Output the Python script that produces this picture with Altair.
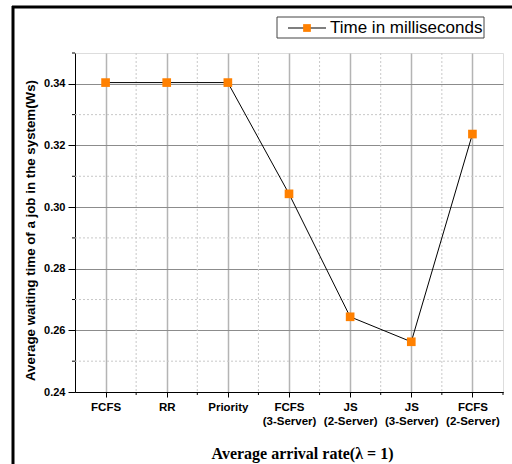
import altair as alt
import pandas as pd

categories = ["FCFS", "RR", "Priority", "FCFS|(3-Server)", "JS|(2-Server)", "JS|(3-Server)", "FCFS|(2-Server)"]
values = [0.3404, 0.3404, 0.3404, 0.3043, 0.2644, 0.2563, 0.3237]
y_major = [0.24, 0.26, 0.28, 0.30, 0.32, 0.34]
y_minor = [0.25, 0.27, 0.29, 0.31, 0.33, 0.35]
x_minor_grid = [0.5, 1.5, 2.5, 3.5, 4.5, 5.5]
x_minor_ticks = [0.5, 1.5, 2.5, 3.5, 4.5, 5.5, 6.5]
legend_label = "Time in milliseconds"
x_title = "Average arrival rate(λ = 1)"
y_title = "Average waiting time of a job in the system(Ws)"

W, H = 428, 339

df = pd.DataFrame({"idx": list(range(len(categories))), "cat": categories, "val": values})
xscale = alt.Scale(domain=[-0.5, 6.5], nice=False, zero=False)
yscale = alt.Scale(domain=[0.24, 0.35], nice=False, zero=False)

arr = "[" + ",".join("'" + c + "'" for c in categories) + "]"
label_expr = "split(" + arr + "[datum.value], '|')"

one = pd.DataFrame({"k": [0]})

minor_xgrid = alt.Chart(pd.DataFrame({"m": x_minor_grid})).mark_rule(
    color="#c8c8c8", strokeDash=[2, 2], strokeWidth=1
).encode(x=alt.X("m:Q", scale=xscale), y=alt.value(0), y2=alt.value(H))

minor_xticks = alt.Chart(pd.DataFrame({"m": x_minor_ticks})).mark_rule(
    color="black", strokeWidth=1
).encode(x=alt.X("m:Q", scale=xscale), y=alt.value(H), y2=alt.value(H + 3))

minor_ygrid = alt.Chart(pd.DataFrame({"m": y_minor[:-1]})).mark_rule(
    color="#c8c8c8", strokeDash=[2, 2], strokeWidth=1
).encode(y=alt.Y("m:Q", scale=yscale), x=alt.value(0), x2=alt.value(W))

minor_yticks = alt.Chart(pd.DataFrame({"m": y_minor})).mark_rule(
    color="black", strokeWidth=1
).encode(y=alt.Y("m:Q", scale=yscale), x=alt.value(-3), x2=alt.value(0))

line = alt.Chart(df).mark_line(color="black", strokeWidth=1).encode(
    x=alt.X("idx:Q", scale=xscale,
            axis=alt.Axis(values=list(range(len(categories))), labelExpr=label_expr,
                          title=x_title, titleFont="Liberation Serif", titleFontSize=16,
                          titleFontWeight="bold", titleColor="black",
                          titleX=227, titleY=66, titleBaseline="alphabetic",
                          labelFont="Arial", labelFontSize=11.5, labelFontWeight="bold",
                          labelColor="black", labelLineHeight=14, labelPadding=4,
                          tickSize=5, tickColor="black", domainColor="black",
                          gridColor="#b4b4b4", gridWidth=1.5)),
    y=alt.Y("val:Q", scale=yscale,
            axis=alt.Axis(values=y_major, format=".2f", title=y_title,
                          titleFont="Arial", titleFontSize=13.3, titleFontWeight="bold",
                          titleColor="black", titleX=-45, titleY=177, titleBaseline="middle",
                          labelFont="Arial", labelFontSize=11, labelFontWeight="bold",
                          labelColor="black", labelPadding=3,
                          tickSize=7, tickColor="black", domainColor="black",
                          gridColor="#8c8c8c", gridWidth=1)),
)

points = alt.Chart(df).mark_point(shape="square", filled=True, size=75, color="#FF8000", opacity=1).encode(
    x=alt.X("idx:Q", scale=xscale), y=alt.Y("val:Q", scale=yscale)
)

# legend box
leg_box = alt.Chart(one).mark_rect(fill="white", stroke="#444", strokeWidth=1).encode(
    x=alt.value(202), x2=alt.value(409), y=alt.value(-36), y2=alt.value(-15))
leg_line = alt.Chart(one).mark_rule(color="#555", strokeWidth=1.5).encode(
    x=alt.value(213), x2=alt.value(251), y=alt.value(-25))
leg_sq = alt.Chart(one).mark_point(shape="square", filled=True, size=60, color="#FF8000", opacity=1).encode(
    x=alt.value(232), y=alt.value(-25))
leg_text = alt.Chart(one).mark_text(align="left", baseline="middle", font="Arial", fontSize=17, color="black").encode(
    x=alt.value(255), y=alt.value(-25), text=alt.value(legend_label))

# outer frame
frame_left = alt.Chart(one).mark_rule(color="black", strokeWidth=3).encode(
    x=alt.value(-62), y=alt.value(-47), y2=alt.value(H + 80))
frame_top = alt.Chart(one).mark_rule(color="black", strokeWidth=3).encode(
    x=alt.value(-63), x2=alt.value(W + 20), y=alt.value(-46))

chart = alt.layer(
    minor_xgrid, minor_ygrid, minor_xticks, minor_yticks, line, points,
    leg_box, leg_line, leg_sq, leg_text, frame_left, frame_top
).properties(
    width=W, height=H,
    autosize=alt.AutoSizeParams(type="none"),
    padding={"left": 75, "top": 53, "right": 9, "bottom": 72},
).configure_view(stroke=None).configure(background="white")

chart.save("out.html", embed_options={"renderer": "svg", "actions": False})
